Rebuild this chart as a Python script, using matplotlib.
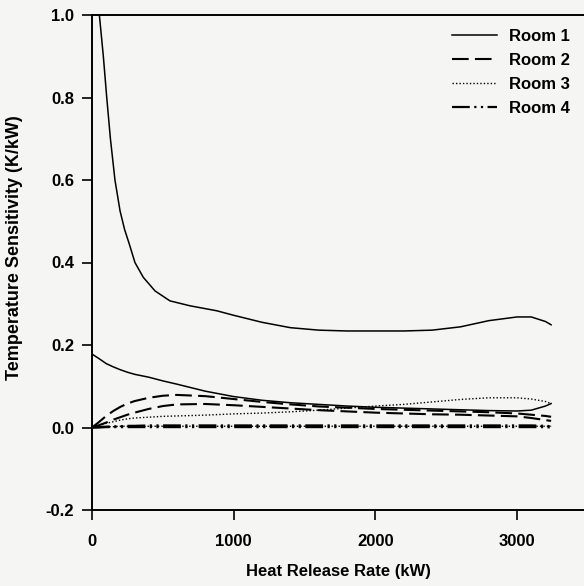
import matplotlib
matplotlib.use("Agg")
import matplotlib.pyplot as plt

plt.rcParams['font.family'] = ['Liberation Sans', 'DejaVu Sans']
plt.rcParams['font.weight'] = 'bold'

# Upper Room 1 curve (own sample points)
hrr_r1a = [0, 52, 80, 104, 130, 162, 198, 230, 263, 303, 362, 445, 550, 692, 880,
           1000, 1200, 1400, 1600, 1800, 2000, 2200, 2400, 2600, 2800, 3000, 3100,
           3200, 3240]
room1_a = [1.20, 1.0, 0.90, 0.80, 0.70, 0.60, 0.525, 0.48, 0.445, 0.40, 0.364, 0.331,
           0.307, 0.295, 0.283, 0.272, 0.255, 0.242, 0.236, 0.234, 0.234, 0.234, 0.236,
           0.244, 0.259, 0.268, 0.268, 0.257, 0.249]

# Heat release rate (kW) sample points for the other curves
hrr = [0, 45, 100, 150, 200, 250, 300, 400, 500, 600, 800, 1000, 1200, 1400,
       1600, 1800, 2000, 2200, 2400, 2600, 2800, 3000, 3100, 3200, 3240]

room1_b = [0.178, 0.168, 0.155, 0.147, 0.140, 0.134, 0.129, 0.122, 0.113, 0.105, 0.088,
           0.075, 0.066, 0.060, 0.056, 0.052, 0.049, 0.047, 0.045, 0.043, 0.041, 0.040,
           0.042, 0.052, 0.058]
room2_a = [0.0, 0.012, 0.028, 0.040, 0.050, 0.058, 0.064, 0.072, 0.077, 0.079, 0.076,
           0.069, 0.062, 0.056, 0.051, 0.048, 0.045, 0.043, 0.041, 0.039, 0.037, 0.034,
           0.031, 0.028, 0.026]
room2_b = [0.0, 0.005, 0.012, 0.019, 0.025, 0.031, 0.036, 0.045, 0.052, 0.056, 0.057,
           0.054, 0.050, 0.046, 0.042, 0.039, 0.036, 0.034, 0.032, 0.031, 0.029, 0.027,
           0.023, 0.018, 0.016]
room3_a = [0.0, 0.004, 0.010, 0.014, 0.018, 0.021, 0.023, 0.025, 0.027, 0.028, 0.030,
           0.033, 0.035, 0.038, 0.042, 0.047, 0.052, 0.056, 0.062, 0.068, 0.072, 0.072,
           0.069, 0.063, 0.058]
room3_b = [0.0, 0.001, 0.002, 0.002, 0.003, 0.003, 0.003, 0.003, 0.003, 0.003, 0.003,
           0.003, 0.003, 0.003, 0.003, 0.003, 0.003, 0.003, 0.003, 0.003, 0.003, 0.003,
           0.003, 0.003, 0.003]
room4_a = [0.0, 0.001, 0.002, 0.003, 0.003, 0.004, 0.004, 0.005, 0.005, 0.005, 0.005,
           0.005, 0.005, 0.005, 0.005, 0.005, 0.005, 0.005, 0.005, 0.005, 0.005, 0.005,
           0.005, 0.004, 0.003]
room4_b = [0.0, 0.000, 0.001, 0.001, 0.001, 0.001, 0.001, 0.001, 0.001, 0.001, 0.001,
           0.001, 0.001, 0.001, 0.001, 0.001, 0.001, 0.001, 0.001, 0.001, 0.001, 0.001,
           0.001, 0.001, 0.000]

labels = ["Room 1", "Room 2", "Room 3", "Room 4"]
xticks = [0, 1000, 2000, 3000]
yticks = [-0.2, 0.0, 0.2, 0.4, 0.6, 0.8, 1.0]

bg = '#f5f5f3'
fig = plt.figure(figsize=(5.84, 5.86), dpi=100, facecolor=bg)
W, H = 584, 586
ax = fig.add_axes([92 / W, (H - 510) / H, (W - 92) / W, (510 - 15) / H])
ax.set_facecolor(bg)

k = 'black'
ax.plot(hrr_r1a, room1_a, color=k, lw=1.1, ls='-', label=labels[0])
ax.plot(hrr, room1_b, color=k, lw=1.1, ls='-')
ax.plot(hrr, room2_a, color=k, lw=1.5, ls=(0, (8, 3)), label=labels[1])
ax.plot(hrr, room2_b, color=k, lw=1.5, ls=(0, (8, 3)))
ax.plot(hrr, room3_a, color=k, lw=1.0, ls=(0, (1, 1.5)), label=labels[2])
ax.plot(hrr, room3_b, color=k, lw=1.0, ls=(0, (1, 1.5)))
ax.plot(hrr, room4_a, color=k, lw=1.6, ls=(0, (8, 2, 1, 2, 1, 2)), label=labels[3])
ax.plot(hrr, room4_b, color=k, lw=1.6, ls=(0, (8, 2, 1, 2, 1, 2)))

ax.set_xlim(0, (W - 92) / 141.7 * 1000)
ax.set_ylim(-0.2, 1.0)
ax.set_xticks(xticks)
ax.set_yticks(yticks)
ax.set_xticklabels([str(v) for v in xticks])
ax.set_yticklabels([f"{v:.1f}" for v in yticks])
ax.tick_params(direction='out', length=7, width=1.2, labelsize=12)
ax.tick_params(axis='x', pad=10)
ax.tick_params(axis='y', pad=6)
for s in ['left', 'bottom', 'top']:
    ax.spines[s].set_linewidth(1.4)
ax.spines['right'].set_visible(False)

ax.set_xlabel("Heat Release Rate (kW)", fontsize=12, fontweight='bold', labelpad=11)
ax.set_ylabel("Temperature Sensitivity (K/kW)", fontsize=13, fontweight='bold')
ax.yaxis.set_label_coords(-0.14, 0.53)

leg = ax.legend(loc='upper right', bbox_to_anchor=(0.995, 0.995), frameon=False,
                fontsize=12, handlelength=2.7, handletextpad=0.7, labelspacing=0.53,
                borderaxespad=0.3)
for t in leg.get_texts():
    t.set_fontweight('bold')

fig.savefig("out.png", dpi=100, facecolor=bg)
